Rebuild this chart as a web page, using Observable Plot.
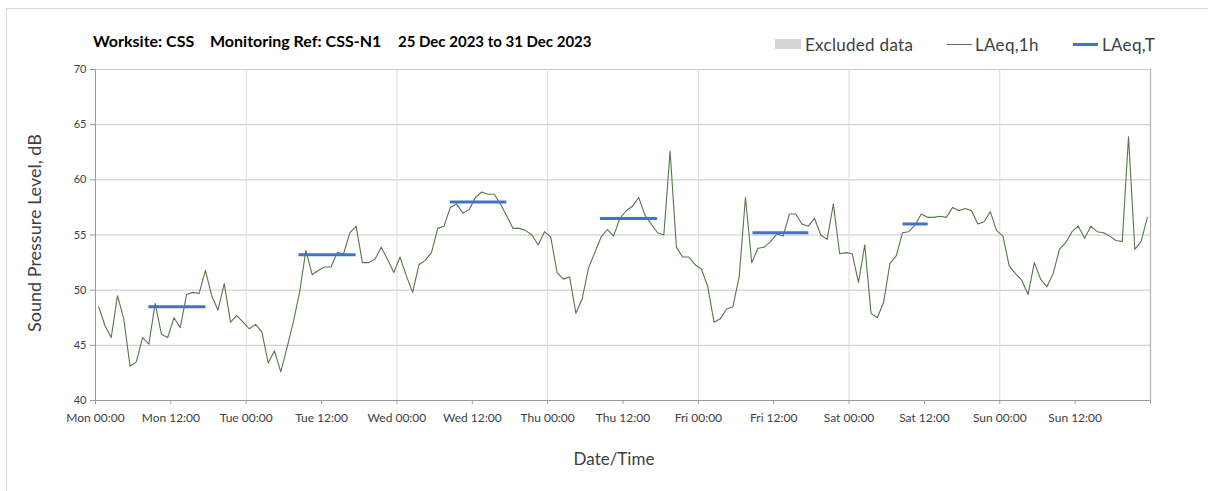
<!DOCTYPE html>
<html>
<head>
<meta charset="utf-8">
<script src="https://cdn.jsdelivr.net/npm/d3@7"></script>
<script src="https://cdn.jsdelivr.net/npm/@observablehq/plot@0.6"></script>
<style>
  html, body { margin: 0; padding: 0; background: #fff; }
  #wrap { position: relative; width: 1208px; height: 491px; overflow: hidden; font-family: Lato, "Open Sans", sans-serif; color: #404040; }
  #frame { position: absolute; left: 6px; top: 8px; width: 1300px; height: 600px; border-left: 1px solid #d9d9d9; border-top: 1px solid #d9d9d9; }
  .title { position: absolute; top: 31px; font-weight: bold; font-size: 16px; color: #000; white-space: nowrap; }
  .leg { position: absolute; top: 34px; font-size: 17px; letter-spacing: 0.3px; color: #404040; white-space: nowrap; }
  .sw { position: absolute; }
  #chart { position: absolute; left: 0; top: 0; }
</style>
</head>
<body>
<div id="wrap">
  <div id="frame"></div>
  <div id="chart"></div>
  <div class="title" style="left:93px">Worksite: CSS</div>
  <div class="title" style="left:210px">Monitoring Ref: CSS-N1</div>
  <div class="title" style="left:398px;font-size:15px;top:32px">25 Dec 2023 to 31 Dec 2023</div>
  <div class="sw" style="left:775px;top:39px;width:26px;height:10px;background:#d4d4d4"></div>
  <div class="leg" style="left:805px">Excluded data</div>
  <div class="sw" style="left:947px;top:44px;width:25px;height:1px;background:#56774a"></div>
  <div class="leg" style="left:975px">LAeq,1h</div>
  <div class="sw" style="left:1073px;top:43px;width:25px;height:3px;background:#4472c4"></div>
  <div class="leg" style="left:1102px">LAeq,T</div>
</div>
<script>
// Day names (x categories) and hourly LAeq,1h values per day (hour-ending midpoints)
const dayNames = ["Mon", "Tue", "Wed", "Thu", "Fri", "Sat", "Sun"];
const monValues = [48.5, 46.8, 45.7, 49.5, 47.4, 43.1, 43.5, 45.7, 45.1, 48.8, 46.0, 45.7, 47.5, 46.6, 49.6, 49.8, 49.7, 51.8, 49.5, 48.2, 50.6, 47.1, 47.7, 47.1];
const tueValues = [46.5, 46.9, 46.2, 43.4, 44.5, 42.6, 44.8, 47.1, 49.8, 53.6, 51.4, 51.8, 52.1, 52.1, 53.4, 53.3, 55.2, 55.8, 52.5, 52.5, 52.8, 53.9, 52.8, 51.6];
const wedValues = [53.0, 51.3, 49.8, 52.3, 52.7, 53.4, 55.6, 55.8, 57.5, 57.8, 57.0, 57.3, 58.4, 58.9, 58.7, 58.7, 57.8, 56.7, 55.6, 55.6, 55.4, 55.0, 54.1, 55.3];
const thuValues = [54.8, 51.6, 51.0, 51.2, 47.9, 49.2, 52.0, 53.4, 54.8, 55.5, 54.9, 56.5, 57.2, 57.6, 58.4, 56.8, 56.0, 55.2, 55.0, 62.6, 53.9, 53.0, 53.0, 52.3];
const friValues = [51.9, 50.3, 47.1, 47.4, 48.3, 48.5, 51.2, 58.4, 52.5, 53.8, 53.9, 54.4, 55.1, 54.9, 56.9, 56.9, 56.0, 55.8, 56.5, 55.0, 54.6, 57.8, 53.3, 53.4];
const satValues = [53.3, 50.7, 54.1, 47.9, 47.5, 48.9, 52.4, 53.1, 55.2, 55.3, 55.9, 56.9, 56.6, 56.6, 56.7, 56.6, 57.5, 57.2, 57.4, 57.2, 56.0, 56.2, 57.1, 55.4];
const sunValues = [54.9, 52.2, 51.5, 50.9, 49.6, 52.5, 51.0, 50.3, 51.5, 53.7, 54.3, 55.3, 55.8, 54.7, 55.8, 55.3, 55.2, 54.9, 54.5, 54.4, 63.9, 53.7, 54.4, 56.6];

// LAeq,T period values (daytime periods), with start/end hour of day
const periodDays  = [0, 1, 2, 3, 4, 5];
const periodStart = [8.5, 8.4, 8.5, 8.4, 8.7, 8.6];
const periodEnd   = [17.6, 17.5, 17.5, 17.5, 17.6, 12.6];
const laeqT       = [48.5, 53.2, 58.0, 56.5, 55.2, 56.0];

// Tick values
const yTicks = [40, 45, 50, 55, 60, 65, 70];
const xTicks = d3.range(0, 169, 12);
const dayLines = [24, 48, 72, 96, 120, 144];

const allDays = [monValues, tueValues, wedValues, thuValues, friValues, satValues, sunValues];
const hourly = allDays.flatMap((vals, i) => vals.map((v, h) => ({t: i * 24 + h + 0.5, v})));
const periods = periodDays.map((d, i) => ({x1: d * 24 + periodStart[i], x2: d * 24 + periodEnd[i], y: laeqT[i]}));

const fmt = t => t >= 168 ? "" : `${dayNames[Math.floor(t / 24)]} ${t % 24 === 0 ? "00:00" : "12:00"}`;

const chart = Plot.plot({
  width: 1208,
  height: 491,
  marginLeft: 95,
  marginRight: 58,
  marginTop: 69,
  marginBottom: 91,
  style: {fontFamily: "Lato, 'Open Sans', sans-serif", background: "transparent", color: "#404040"},
  x: {type: "linear", domain: [0, 168]},
  y: {domain: [40, 70]},
  marks: [
    Plot.ruleY(yTicks.filter(d => d > 40), {stroke: "#c8c8c8", strokeWidth: 1}),
    Plot.ruleX(dayLines, {stroke: "#dadada", strokeWidth: 1}),
    Plot.ruleX([168], {stroke: "#b4b4b4", strokeWidth: 1.2}),
    Plot.ruleX([0], {stroke: "#9a9a9a"}),
    Plot.ruleY([40], {stroke: "#9a9a9a"}),
    Plot.axisY({ticks: yTicks, tickSize: 5, tickPadding: 4, label: null, fontSize: 11, stroke: "#9a9a9a", fill: "#404040"}),
    Plot.axisX({ticks: xTicks, tickSize: 4, tickPadding: 9, tickFormat: fmt, label: null, fontSize: 12, stroke: "#9a9a9a", fill: "#404040"}),
    Plot.line(hourly, {x: "t", y: "v", stroke: "#56774a", strokeWidth: 1.1}),
    Plot.ruleY(periods, {x1: "x1", x2: "x2", y: "y", stroke: "#4472c4", strokeWidth: 3, strokeLinecap: "butt"}),
    Plot.text(["Sound Pressure Level, dB"], {frameAnchor: "left", textAnchor: "middle", rotate: -90, dx: -60, dy: -2, fontSize: 18, letterSpacing: "0.8px", fill: "#404040"}),
    Plot.text(["Date/Time"], {frameAnchor: "bottom", dx: -9, dy: 64, fontSize: 17, fill: "#404040"})
  ]
});
document.getElementById("chart").appendChild(chart);
</script>
</body>
</html>
